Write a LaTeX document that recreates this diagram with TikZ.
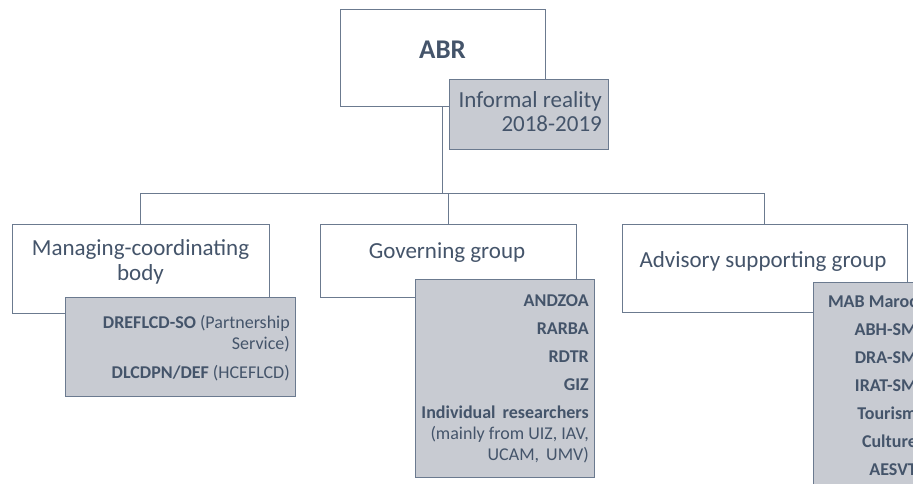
\documentclass[tikz,border=0pt]{standalone}
\usepackage{fontspec}
\setmainfont{Carlito}
\usetikzlibrary{calc, positioning}
\definecolor{txt}{HTML}{44546A}
\definecolor{edge}{HTML}{6B7A8F}
\definecolor{shade}{HTML}{C8CBD2}
\newcommand{\fs}[2]{\fontsize{#1}{#2}\selectfont}
\tikzset{
  % General box
  box/.style={draw=edge, fill=white, shape=rectangle, line width=1pt,
    inner sep=0pt},
  % Shaded box
  sbox/.style={box, fill=shade},
  % Plain text
  lbl/.style={inner sep=0pt, text=txt},
  % Group title
  title/.style={lbl, font=\fs{23}{25}, anchor=base},
  % Member list
  list/.style={lbl, font=\fs{18}{21}, anchor=base east},
  % Connectors
  conn/.style={draw=edge, line width=1pt},
}

\begin{document}
\begin{tikzpicture}[x=1pt, y=-1pt]
  \useasboundingbox (0,0) rectangle (913,484);
  \clip (0,0) rectangle (913,484);

  \node[box, minimum width=205pt, minimum height=97pt] (abr) at (442.5,58.5) {};
  \node[sbox, minimum width=159pt, minimum height=70pt] (inf) at (528.5,115) {};

  \node[box, minimum width=257pt, minimum height=89pt] (mgmt) at (140.5,268.5) {};
  \node[box, minimum width=256pt, minimum height=73pt] (gov) at (448,260.5) {};
  \node[box, minimum width=285pt, minimum height=88pt] (adv) at (764.5,268) {};

  \node[sbox, minimum width=230pt, minimum height=99pt] (mgmtlist) at (180,346.5) {};
  \node[sbox, minimum width=179pt, minimum height=198pt] (govlist) at (504.5,378) {};
  \node[sbox, minimum width=110pt, minimum height=213pt] (advlist) at (868,388.5) {};

  \coordinate (bus) at (abr.south |- 0,193);
  \draw[conn] (abr.south) -- (bus);
  \draw[conn] (mgmt.north) |- (adv.north |- bus) -- (adv.north);
  \draw[conn] (gov.north) -- (gov.north |- bus);

  \node[lbl, font=\fs{27}{30}\bfseries, anchor=base] (abrtxt) at (442.5,59) {ABR};
  \node[lbl, font=\fs{23}{24}, anchor=base east] (inftxt) at (602,108)
    {\begin{tabular}[t]{@{}r@{}}Informal reality\\2018-2019\end{tabular}};

  \node[title] (mgmttxt) at (140.5,255)
    {\begin{tabular}[t]{@{}c@{}}Managing-coordinating\\body\end{tabular}};
  \node[title] (govtxt) at (447,258) {Governing group};
  \node[title] (advtxt) at (763,267) {Advisory supporting group};

  \node[list] (mgmtitems) at (290,328)
    {\begin{tabular}[t]{@{}r@{}}
      \textbf{DREFLCD-SO} (Partnership\\Service)\\[8pt]
      \textbf{DLCDPN/DEF} (HCEFLCD)
    \end{tabular}};
  \node[list] (govitems) at (589,306)
    {\begin{tabular}[t]{@{}r@{}}
      \textbf{ANDZOA}\\[7pt]\textbf{RARBA}\\[7pt]\textbf{RDTR}\\[7pt]
      \textbf{GIZ}\\[7pt]
      \textbf{Individual\hspace{3pt} researchers}\\
      (mainly from UIZ, IAV,\\UCAM,\hspace{3pt} UMV)
    \end{tabular}};
  \node[list] (advitems) at (917,307)
    {\begin{tabular}[t]{@{}r@{}}
      \textbf{MAB Maroc}\\[7pt]\textbf{ABH-SM}\\[7pt]\textbf{DRA-SM}\\[7pt]
      \textbf{IRAT-SM}\\[7pt]\textbf{Tourism}\\[7pt]\textbf{Culture}\\[7pt]
      \textbf{AESVT}
    \end{tabular}};
\end{tikzpicture}
\end{document}
